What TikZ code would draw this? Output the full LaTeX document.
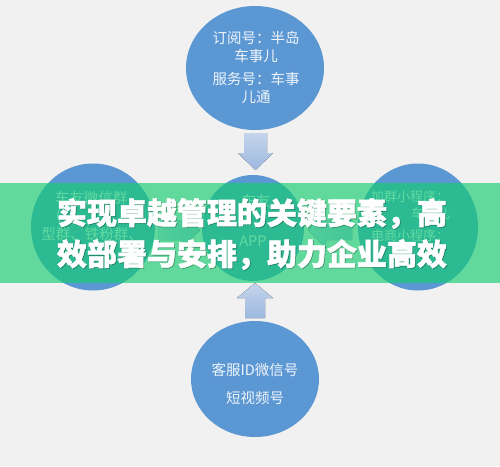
\documentclass[tikz,border=0pt]{standalone}
\usepackage{fontspec}
\newfontfamily\cjk{Noto Sans CJK SC}
\newfontfamily\cjkheavy[BoldFeatures={FakeBold=1.6}]{Noto Sans CJK SC}
\usetikzlibrary{shapes.geometric}
\definecolor{bg}{HTML}{F1F1F1}
\definecolor{cblue}{HTML}{5B97D3}
\definecolor{arrtop}{HTML}{C4D5EC}
\definecolor{arrbot}{HTML}{9DB8DF}
\definecolor{bgreen}{RGB}{20,205,113}
\tikzset{
  circ/.style={ellipse, fill=cblue, inner sep=0pt, draw=none},
  ctext/.style={font=\cjk\fontsize{14.5}{18}\selectfont, text=white, text opacity=0.9, align=center, inner sep=0pt},
  blockarrow/.style={top color=arrtop, bottom color=arrbot, draw=none},
  sidearrow/.style={left color=arrtop, right color=arrbot, draw=none},
  bannertext/.style={font=\cjkheavy\bfseries\fontsize{30}{41}\selectfont, align=center, inner sep=0pt}
}
\begin{document}
\begin{tikzpicture}[x=1pt,y=-1pt]
\fill[bg] (0,0) rectangle (500,466);
\useasboundingbox (0,0) rectangle (500,466);
% circles
\node[circ, minimum width=138pt, minimum height=124pt] (top) at (255,68) {};
\node[circ, minimum width=124pt, minimum height=127pt] (left) at (93,227) {};
\node[circ, minimum width=102pt, minimum height=106pt] (center) at (253,228) {};
\node[circ, minimum width=120pt, minimum height=127pt] (right) at (418,227) {};
\node[circ, minimum width=128pt, minimum height=116pt] (bottom) at (255,379) {};
% arrows (block arrows toward the centre)
\fill[blockarrow] (244,133) -- (267,133) -- (267,153) -- (273,153) -- (255.5,170) -- (238,153) -- (244,153) -- cycle;
\fill[blockarrow] (245,318) -- (265,318) -- (265,298) -- (273,298) -- (255,283) -- (237,298) -- (245,298) -- cycle;
\fill[sidearrow] (158,220) -- (182,220) -- (182,212) -- (200,230) -- (182,248) -- (182,240) -- (158,240) -- cycle;
\fill[sidearrow] (352,220) -- (326,220) -- (326,212) -- (308,230) -- (326,248) -- (326,240) -- (352,240) -- cycle;
% circle texts
\node[ctext] (ttop) at (256,67) {订阅号：半岛\\车事儿\\[5pt]服务号：车事\\儿通};
\node[ctext, font=\cjk\fontsize{14.5}{28}\selectfont] (tbottom) at (255,384) {客服ID微信号\\短视频号};
\node[ctext] (tleft1) at (91,198) {车友微信群};
\node[ctext, anchor=west] (tleft2) at (47,216) {（};
\node[ctext] (tleft3) at (92,234) {型群、铁粉群、};
\node[ctext] (tcen1) at (256,201) {车友};
\node[ctext] (tcen2) at (253,241) {APP};
\node[ctext, font=\cjk\fontsize{13}{17}\selectfont] (tright1) at (410,197) {加群小程序：};
\node[ctext, font=\cjk\fontsize{13}{17}\selectfont, anchor=west] (tright2) at (411,214) {车事儿};
\node[ctext, font=\cjk\fontsize{13}{17}\selectfont] (tright3) at (410,236) {电商小程序：};
% banner
\fill[bgreen, opacity=0.65] (0,183) rectangle (500,283);
\node[bannertext, text=black, text opacity=0.22] (bshadow) at (252.8,234.8) {实现卓越管理的关键要素，高\\效部署与安排，助力企业高效};
\node[bannertext, text=white] (banner) at (252,234) {实现卓越管理的关键要素，高\\效部署与安排，助力企业高效};
\end{tikzpicture}
\end{document}
